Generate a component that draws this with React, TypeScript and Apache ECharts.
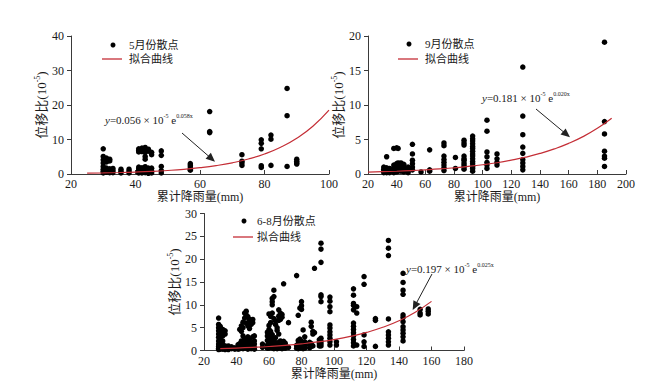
import React, { useEffect, useRef } from "react";
import * as echarts from "echarts";

// ---------------- data ----------------
const mayPoints: [number, number][] = [
  [30, 7.3], [30, 5.1], [30, 4.1], [30, 3.2], [30, 2.2], [30, 1.4], [30, 0.8], [30, 0.3],
  [31, 4.6], [31, 3.5], [31, 1.7], [31, 1.0], [31, 0.5],
  [32, 4.3], [32, 3.8], [32, 1.5], [32, 0.9], [32, 0.4],
  [33, 1.6], [33, 1.0], [33, 0.4],
  [35.5, 1.4], [35.5, 0.8], [35.5, 0.3],
  [38, 1.4], [38, 0.8], [38, 0.3],
  [41, 7.3], [41, 6.8], [41, 6.4], [41, 2.0], [41, 1.5], [41, 1.0], [41, 0.6], [41, 0.3],
  [42, 7.5], [42, 7.0], [42, 6.5], [42, 1.8], [42, 1.2], [42, 0.7], [42, 0.3],
  [43, 7.7], [43, 6.9], [43, 6.3], [43, 5.1], [43, 4.3], [43, 2.1], [43, 1.4], [43, 0.9], [43, 0.4],
  [44, 7.2], [44, 6.6], [44, 1.7], [44, 1.1], [44, 0.6], [44, 0.2],
  [45, 6.3], [45, 5.6], [45, 1.7], [45, 0.8], [45, 0.3],
  [48, 6.7], [48, 5.4], [48, 2.2], [48, 1.0], [48, 0.3],
  [57, 3.0], [57, 2.5], [57, 2.0], [57, 1.4], [57, 1.1],
  [63, 18.1], [63, 12.3], [63, 12.0],
  [73, 5.6], [73, 3.7], [73, 3.2], [73, 2.5],
  [79, 9.9], [79, 8.9], [79, 7.3], [79, 2.4], [79, 1.9],
  [82, 11.3], [82, 10.1], [82, 2.5],
  [87, 24.8], [87, 16.9], [87, 2.2],
  [90, 4.3], [90, 3.7], [90, 3.2], [90, 2.9],
];
const mayFitX = [25, 30, 35, 40, 45, 50, 55, 60, 65, 70, 75, 80, 85, 90, 95, 100];
const mayFitY = [0.24, 0.32, 0.43, 0.57, 0.76, 1.02, 1.36, 1.82, 2.43, 3.25, 4.34, 5.8, 7.75, 10.36, 13.84, 18.5];

const sepPoints: [number, number][] = [
  [31, 1.0], [31, 0.7], [31, 0.4], [31, 0.2],
  [33, 2.5], [33, 0.9], [33, 0.5], [33, 0.2],
  [35, 0.8], [35, 0.5], [35, 0.2],
  [38, 3.7], [38, 1.3], [38, 0.9], [38, 0.5], [38, 0.2],
  [40, 3.8], [40, 1.5], [40, 1.1], [40, 0.7], [40, 0.3],
  [41, 3.7], [41, 1.6], [41, 1.2], [41, 0.8], [41, 0.4],
  [43, 1.6], [43, 1.2], [43, 0.8], [43, 0.4],
  [45, 1.4], [45, 1.0], [45, 0.6], [45, 0.3],
  [48, 1.0], [48, 0.6], [48, 0.2],
  [51, 4.3], [51, 2.9], [51, 2.0], [51, 1.5], [51, 1.0], [51, 0.6],
  [57, 0.3],
  [63, 3.5], [63, 0.6], [63, 0.4],
  [73, 4.5], [73, 4.1], [73, 2.6], [73, 2.1], [73, 1.7], [73, 1.3], [73, 0.9], [73, 0.5],
  [81, 2.4], [81, 0.8],
  [87, 4.9], [87, 4.5], [87, 4.2], [87, 2.6], [87, 2.2], [87, 2.0], [87, 1.6], [87, 1.3], [87, 1.0], [87, 0.7],
  [93, 5.5], [93, 5.1], [93, 4.8], [93, 4.4], [93, 4.0], [93, 3.7], [93, 3.3], [93, 2.9], [93, 2.6], [93, 2.2], [93, 1.8], [93, 1.5], [93, 1.1], [93, 0.8], [93, 0.4],
  [103, 7.8], [103, 6.2], [103, 3.2], [103, 2.5], [103, 1.7], [103, 1.3], [103, 0.8],
  [110, 2.9], [110, 2.2], [110, 1.7], [110, 1.3],
  [128, 15.5], [128, 8.4], [128, 5.7], [128, 3.9], [128, 3.0], [128, 2.1], [128, 1.6], [128, 1.1], [128, 0.6],
  [185, 19.1], [185, 7.6], [185, 5.8], [185, 3.3], [185, 2.6], [185, 2.3], [185, 1.1],
];
const sepFitX = [20, 30, 40, 50, 60, 70, 80, 90, 100, 110, 120, 130, 140, 150, 160, 170, 180, 190];
const sepFitY = [0.27, 0.33, 0.4, 0.49, 0.6, 0.73, 0.9, 1.1, 1.34, 1.63, 2.0, 2.44, 2.98, 3.64, 4.44, 5.42, 6.62, 8.09];

const sumPoints: [number, number][] = [
  [29, 7.1], [29, 5.7], [29, 5.0], [29, 4.3], [29, 3.6], [29, 2.9], [29, 2.1], [29, 1.4], [29, 0.9], [29, 0.5], [29, 0.2],
  [30, 5.3], [30, 4.0], [30, 2.5], [30, 1.7], [30, 1.1], [30, 0.6], [30, 0.3],
  [31.5, 4.6], [31.5, 3.9], [31.5, 3.2], [31.5, 2.1], [31.5, 1.4], [31.5, 0.7], [31.5, 0.3],
  [33, 4.3], [33, 3.6], [33, 1.0], [33, 0.5], [33, 0.2],
  [35, 1.0], [35, 0.5], [35, 0.2],
  [37, 0.8], [37, 0.4],
  [39, 0.6], [39, 0.3],
  [41, 1.3], [41, 0.7], [41, 0.3],
  [42, 4.6], [42, 1.5], [42, 0.8], [42, 0.4],
  [43, 5.4], [43, 4.2], [43, 2.1], [43, 1.2], [43, 0.6],
  [44, 6.2], [44, 5.0], [44, 3.2], [44, 1.6], [44, 0.9], [44, 0.4],
  [45, 8.2], [45, 7.1], [45, 2.6], [45, 1.4], [45, 0.7],
  [46, 8.6], [46, 7.8], [46, 6.0], [46, 2.0], [46, 1.1], [46, 0.5],
  [47, 7.4], [47, 5.4], [47, 3.0], [47, 1.8], [47, 0.8], [47, 0.3],
  [48, 6.8], [48, 6.1], [48, 4.8], [48, 2.4], [48, 1.3], [48, 0.6],
  [49, 6.4], [49, 5.7], [49, 1.6], [49, 0.9], [49, 0.4],
  [50, 6.8], [50, 6.1], [50, 3.0], [50, 1.2], [50, 0.6],
  [51, 3.2], [51, 2.1], [51, 1.4], [51, 0.7], [51, 0.3],
  [56, 1.4], [56, 0.7],
  [59, 4.0], [59, 3.2], [59, 2.2], [59, 1.2], [59, 0.5],
  [60, 8.0], [60, 5.5], [60, 4.6], [60, 3.9], [60, 1.8], [60, 1.1], [60, 0.5],
  [61, 7.5], [61, 6.1], [61, 4.2], [61, 3.0], [61, 2.5], [61, 1.6], [61, 0.8],
  [62, 11.4], [62, 10.7], [62, 10.0], [62, 8.2], [62, 3.5], [62, 1.4], [62, 0.6],
  [63, 13.2], [63, 11.8], [63, 7.0], [63, 2.2], [63, 1.0], [63, 0.4],
  [64, 6.5], [64, 5.7], [64, 2.8], [64, 1.3], [64, 0.6],
  [65, 5.0], [65, 4.4], [65, 1.7], [65, 0.9], [65, 0.4],
  [66, 8.9], [66, 7.5], [66, 6.6], [66, 3.6], [66, 1.5], [66, 0.7],
  [67, 8.2], [67, 6.8], [67, 2.1], [67, 1.1], [67, 0.5],
  [68, 7.9], [68, 7.3], [68, 1.8], [68, 0.9], [68, 0.4],
  [69, 14.6], [69, 2.0], [69, 1.2], [69, 0.6],
  [70, 1.6], [70, 1.0], [70, 0.5],
  [72, 6.1], [72, 0.7],
  [77, 16.4], [77, 1.1], [77, 0.5],
  [78, 7.7], [78, 2.2], [78, 1.5], [78, 0.9], [78, 0.4],
  [79, 9.3], [79, 2.5], [79, 1.8], [79, 1.1], [79, 0.5],
  [80, 10.7], [80, 9.8], [80, 9.0], [80, 2.0], [80, 1.2], [80, 0.6],
  [81, 4.5], [81, 1.6], [81, 0.9], [81, 0.4],
  [82, 3.0], [82, 1.9], [82, 1.1], [82, 0.5],
  [85, 1.8], [85, 1.2], [85, 0.6],
  [86, 6.2], [86, 5.3], [86, 1.5], [86, 0.9],
  [87, 4.2], [87, 3.6], [87, 1.0],
  [88, 18.0], [88, 3.9],
  [91, 2.4], [91, 1.9], [91, 1.5], [91, 1.0],
  [92, 23.5], [92, 22.2], [92, 19.3], [92, 12.2], [92, 11.8], [92, 10.7], [92, 2.7], [92, 2.0], [92, 1.5], [92, 1.0],
  [97.5, 11.7], [97.5, 10.8], [97.5, 9.6], [97.5, 8.5], [97.5, 5.6], [97.5, 4.9], [97.5, 4.1], [97.5, 3.4], [97.5, 2.7], [97.5, 1.9], [97.5, 1.2],
  [101.5, 1.9], [101.5, 1.2],
  [112, 13.5], [112, 12.1], [112, 10.3], [112, 9.9], [112, 8.9], [112, 6.0], [112, 5.3], [112, 4.6], [112, 3.9], [112, 3.2], [112, 2.4], [112, 1.7], [112, 1.0],
  [114, 9.6], [114, 8.2], [114, 1.2],
  [118.5, 16.2], [118.5, 14.5], [118.5, 3.4], [118.5, 1.9], [118.5, 0.9],
  [125.5, 7.0], [125.5, 6.6], [125.5, 0.9],
  [133.5, 24.1], [133.5, 22.4], [133.5, 20.8], [133.5, 6.9], [133.5, 4.1], [133.5, 3.4], [133.5, 2.7], [133.5, 1.9], [133.5, 1.2],
  [142.5, 16.9], [142.5, 14.9], [142.5, 13.2], [142.5, 12.3], [142.5, 7.8], [142.5, 7.2], [142.5, 6.3], [142.5, 5.2], [142.5, 4.5], [142.5, 3.8], [142.5, 3.0], [142.5, 2.1],
  [153, 9.0], [153, 8.2], [153, 7.8],
  [158, 9.1], [158, 8.6], [158, 8.0],
];
const sumFitX = [30, 40, 50, 60, 70, 80, 90, 100, 110, 120, 130, 140, 150, 160];
const sumFitY = [0.42, 0.54, 0.69, 0.88, 1.13, 1.46, 1.87, 2.4, 3.08, 3.96, 5.08, 6.52, 8.38, 10.76];

const scatterNames = ["5月份散点", "9月份散点", "6-8月份散点"];
const fitName = "拟合曲线";
const xAxisName = "累计降雨量(mm)";
const equations = [
  { coef: "0.056", exp: "0.058x" },
  { coef: "0.181", exp: "0.020x" },
  { coef: "0.197", exp: "0.025x" },
];
const xRanges = [
  { min: 20, max: 100, interval: 20 },
  { min: 20, max: 200, interval: 20 },
  { min: 20, max: 180, interval: 20 },
];
const yRanges = [
  { min: 0, max: 40, interval: 10 },
  { min: 0, max: 20, interval: 5 },
  { min: 0, max: 30, interval: 5 },
];

// ---------------- styling ----------------
const FONT = "'Liberation Serif', 'Times New Roman', 'Noto Sans CJK SC', serif";
const RED = "#c42e36";
const AXIS = "#3a3a3a";
const TEXT = "#1a1a1a";

const grids = [
  { left: 71, top: 36, width: 258, height: 138 },
  { left: 368, top: 36, width: 258, height: 138 },
  { left: 204, top: 213.5, width: 260, height: 137 },
];

function zip(xs: number[], ys: number[]) {
  return xs.map((x, i) => [x, ys[i]]);
}

function legendGraphics(dotX: number, dotY: number, lineX: number, lineY: number, textX: number, label: string) {
  return [
    { type: "circle", shape: { cx: dotX, cy: dotY, r: 2.5 }, style: { fill: "#000" } },
    {
      type: "text", x: textX, y: dotY,
      style: { text: label, font: `11px ${FONT}`, fill: TEXT, verticalAlign: "middle" },
    },
    { type: "line", shape: { x1: lineX, y1: lineY, x2: lineX + 20, y2: lineY }, style: { stroke: RED, lineWidth: 1.3 } },
    {
      type: "text", x: textX, y: lineY,
      style: { text: fitName, font: `11px ${FONT}`, fill: TEXT, verticalAlign: "middle" },
    },
  ];
}

function equation(x: number, y: number, coef: string, exp: string) {
  return {
    type: "text", x, y,
    style: {
      text: `{i|y}{n|=${coef} × 10}{s|-5}{n| e}{s|${exp}}`,
      verticalAlign: "middle",
      fill: TEXT,
      rich: {
        i: { fontFamily: FONT, fontSize: 11, fontStyle: "italic", verticalAlign: "bottom", lineHeight: 13, fill: TEXT },
        n: { fontFamily: FONT, fontSize: 11, verticalAlign: "bottom", lineHeight: 13, fill: TEXT },
        s: { fontFamily: FONT, fontSize: 6, verticalAlign: "top", lineHeight: 7, fill: TEXT },
      },
    },
  };
}

function arrow(x1: number, y1: number, x2: number, y2: number) {
  const dx = x2 - x1, dy = y2 - y1;
  const len = Math.sqrt(dx * dx + dy * dy);
  const ux = dx / len, uy = dy / len;
  const hl = 9, hw = 4;
  const bx = x2 - ux * hl, by = y2 - uy * hl;
  return [
    { type: "line", shape: { x1, y1, x2: bx + ux * 2, y2: by + uy * 2 }, style: { stroke: "#222", lineWidth: 1 } },
    {
      type: "polygon",
      shape: { points: [[x2, y2], [bx - uy * hw, by + ux * hw], [bx + uy * hw, by - ux * hw]] },
      style: { fill: "#222" },
    },
  ];
}

export default function App() {
  const ref = useRef<HTMLDivElement>(null);
  useEffect(() => {
    if (!ref.current) return;
    const chart = echarts.init(ref.current, undefined, { renderer: "svg" });
    const allPoints = [mayPoints, sepPoints, sumPoints];
    const fits = [zip(mayFitX, mayFitY), zip(sepFitX, sepFitY), zip(sumFitX, sumFitY)];
    const nameGaps = [20, 17, 22];

    const option: any = {
      animation: false,
      backgroundColor: "#fff",
      grid: grids.map((g) => ({ ...g, containLabel: false })),
      xAxis: xRanges.map((r, i) => ({
        type: "value",
        gridIndex: i,
        min: r.min, max: r.max, interval: r.interval,
        name: xAxisName,
        nameLocation: "middle",
        nameGap: 17,
        nameTextStyle: { fontFamily: FONT, fontSize: 12, color: TEXT },
        axisLine: { show: true, onZero: false, lineStyle: { color: AXIS, width: 1 } },
        axisTick: { show: true, inside: true, length: 4, lineStyle: { color: AXIS } },
        axisLabel: { fontFamily: FONT, fontSize: 12, color: TEXT, margin: 4 },
        splitLine: { show: false },
      })),
      yAxis: yRanges.map((r, i) => ({
        type: "value",
        gridIndex: i,
        min: r.min, max: r.max, interval: r.interval,
        name: "{a|位移比(10}{s|-5}{a|)}",
        nameLocation: "middle",
        nameGap: nameGaps[i],
        nameTextStyle: {
          fontFamily: FONT, fontSize: 13, color: TEXT,
          rich: {
            a: { fontFamily: FONT, fontSize: 13, color: TEXT, verticalAlign: "bottom", lineHeight: 15 },
            s: { fontFamily: FONT, fontSize: 8, color: TEXT, verticalAlign: "top", lineHeight: 9 },
          },
        },
        axisLine: { show: true, onZero: false, lineStyle: { color: AXIS, width: 1 } },
        axisTick: { show: true, inside: false, length: 4, lineStyle: { color: AXIS } },
        axisLabel: { fontFamily: FONT, fontSize: 12, color: TEXT, margin: 7 },
        splitLine: { show: false },
      })),
      series: [
        ...allPoints.map((pts, i) => ({
          type: "scatter",
          name: scatterNames[i],
          xAxisIndex: i, yAxisIndex: i,
          data: pts,
          symbol: "circle",
          symbolSize: 5.5,
          itemStyle: { color: "#000", opacity: 1 },
          z: 3,
        })),
        ...fits.map((pts, i) => ({
          type: "line",
          name: fitName,
          xAxisIndex: i, yAxisIndex: i,
          data: pts,
          smooth: true,
          showSymbol: false,
          lineStyle: { color: RED, width: 1.2 },
          z: 4,
        })),
      ],
      graphic: [
        ...legendGraphics(113, 45, 102, 59, 129, scatterNames[0]),
        ...legendGraphics(409, 44, 398, 59, 425, scatterNames[1]),
        ...legendGraphics(244, 221, 233, 237, 257, scatterNames[2]),
        equation(105, 119, equations[0].coef, equations[0].exp),
        equation(482, 97, equations[1].coef, equations[1].exp),
        equation(406, 268, equations[2].coef, equations[2].exp),
        ...arrow(182, 133, 215, 161.7),
        ...arrow(536, 109, 570, 137.3),
        ...arrow(432, 274, 412.7, 310),
      ],
    };
    chart.setOption(option);
    return () => chart.dispose();
  }, []);
  return (
    <div
      ref={ref}
      style={{ position: "fixed", left: 0, top: 0, width: 650, height: 391, background: "#fff" }}
    />
  );
}
